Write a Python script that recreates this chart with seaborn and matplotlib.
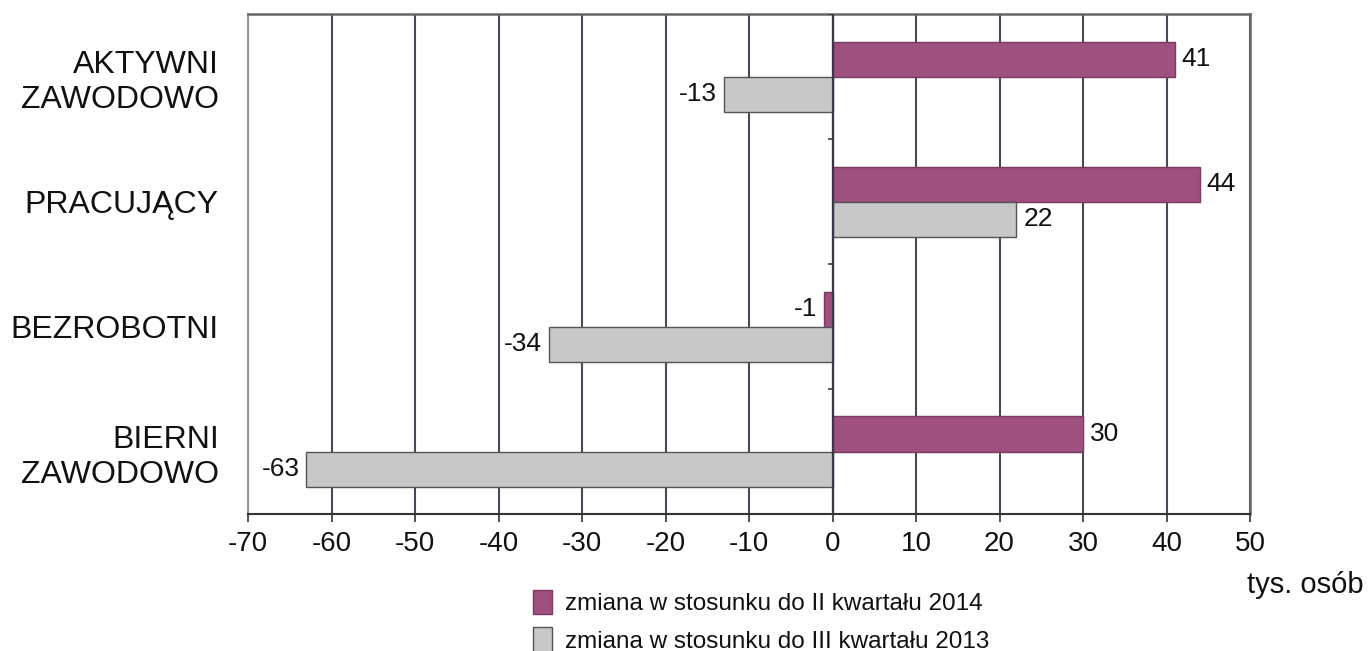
import numpy as np
import pandas as pd
import matplotlib as mpl
mpl.use("Agg")
import matplotlib.pyplot as plt
import seaborn as sns

# -----------------------
# dane (tys. osób)
# -----------------------
categories = ["AKTYWNI\nZAWODOWO", "PRACUJĄCY", "BEZROBOTNI", "BIERNI\nZAWODOWO"]
series_names = ["zmiana w stosunku do II kwartału 2014",
                "zmiana w stosunku do III kwartału 2013"]
vals_q2_2014 = [41, 44, -1, 30]
vals_q3_2013 = [-13, 22, -34, -63]
x_ticks = list(range(-70, 51, 10))
unit_label = "tys. osób"

colors = ["#a0507e", "#c8c8c8"]
edges = ["#7a3a60", "#555555"]

df = pd.DataFrame({
    "kategoria": categories * 2,
    "seria": [series_names[0]] * len(categories) + [series_names[1]] * len(categories),
    "wartosc": vals_q2_2014 + vals_q3_2013,
})

sns.set_theme(style="white")
plt.rcParams["font.family"] = ["Liberation Sans", "DejaVu Sans"]
plt.rcParams["text.color"] = "#111111"
plt.rcParams["xtick.color"] = "#111111"
plt.rcParams["ytick.color"] = "#111111"

fig = plt.figure(figsize=(13.72, 6.51), dpi=100)
ax = fig.add_axes([248 / 1372, 1 - 514 / 651, 1002 / 1372, 500 / 651])

sns.barplot(data=df, y="kategoria", x="wartosc", hue="seria",
            order=categories, hue_order=series_names, palette=colors,
            orient="h", width=0.56, ax=ax, legend=False, saturation=1)

for cont, ec in zip(ax.containers, edges):
    for patch in cont:
        patch.set_edgecolor(ec)
        patch.set_linewidth(1.0)
    ax.bar_label(cont, fmt="%d", padding=5, fontsize=19, color="#111111")

ax.set_xlim(x_ticks[0], x_ticks[-1])
ax.set_ylim(len(categories) - 0.5, -0.5)
ax.set_xticks(x_ticks)
ax.set_xticklabels([str(t) for t in x_ticks], fontsize=20)
ax.tick_params(axis="x", direction="out", length=6, width=1.2, color="#333333", pad=6, bottom=True)
ax.tick_params(axis="y", length=0, pad=21, labelsize=23)
ax.set_xlabel("")
ax.set_ylabel("")

# siatka pionowa
ax.set_axisbelow(True)
ax.grid(axis="x", color="#4a4858", linewidth=1.5)
ax.axvline(0, color="#3a3848", linewidth=1.6, zorder=3)
# znaczniki osi kategorii na zerze
bounds = np.arange(len(categories) + 1) - 0.5
ax.hlines(bounds, -0.5, 0, color="#3a3848", linewidth=1.2, zorder=3)

ax.spines["left"].set_color("#999999")
ax.spines["left"].set_linewidth(1.5)
for side in ["top", "right"]:
    ax.spines[side].set_color("#666666")
    ax.spines[side].set_linewidth(1.8)
ax.spines["bottom"].set_color("#333333")
ax.spines["bottom"].set_linewidth(1.5)

# legenda
handles = [mpl.patches.Patch(facecolor=c, edgecolor=e, linewidth=1) for c, e in zip(colors, edges)]
fig.legend(handles, series_names, loc="upper left", bbox_to_anchor=(533 / 1372, 1 - 590 / 651),
           frameon=False, fontsize=17.5, handlelength=0.8, handleheight=1.15,
           handletextpad=0.5, labelspacing=0.5, borderpad=0, borderaxespad=0)

fig.text(1247 / 1372, 1 - 585 / 651, unit_label, ha="left", va="center", fontsize=21, color="#111111")

fig.savefig("out.png", dpi=100, facecolor="white")
